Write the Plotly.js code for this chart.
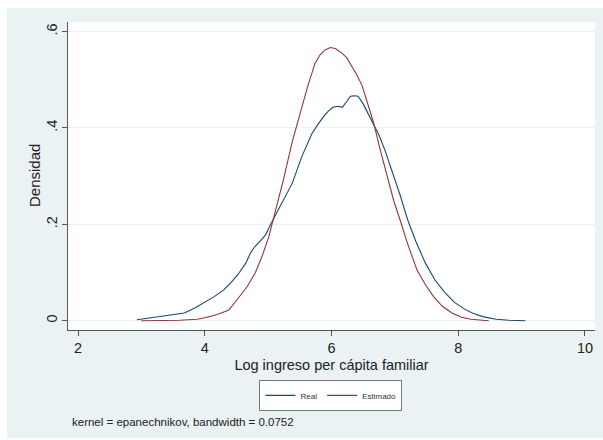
<!DOCTYPE html>
<html>
<head>
<meta charset="utf-8">
<script src="https://cdn.plot.ly/plotly-3.0.1.min.js"></script>
<style>
  html, body { margin: 0; padding: 0; background: #ffffff; }
  #chart { position: absolute; left: 7px; top: 8px; width: 596px; height: 430px; }
</style>
</head>
<body>
<div id="chart"></div>
<script>
// Kernel density: Real
const realX = [2.93, 3.2, 3.45, 3.68, 3.85, 4.0, 4.15, 4.3, 4.42, 4.53, 4.65, 4.72, 4.78, 4.86, 4.96, 5.04, 5.2, 5.38, 5.53, 5.69, 5.8, 5.87, 5.95, 6.02, 6.1, 6.17, 6.24, 6.3, 6.36, 6.42, 6.5, 6.58, 6.66, 6.75, 6.84, 6.96, 7.08, 7.2, 7.33, 7.48, 7.63, 7.78, 7.94, 8.1, 8.24, 8.4, 8.6, 8.8, 9.06];
const realY = [0.002, 0.007, 0.011, 0.016, 0.027, 0.038, 0.05, 0.064, 0.08, 0.097, 0.12, 0.14, 0.152, 0.163, 0.178, 0.2, 0.24, 0.285, 0.34, 0.388, 0.41, 0.423, 0.435, 0.443, 0.445, 0.443, 0.455, 0.466, 0.467, 0.466, 0.45, 0.43, 0.41, 0.385, 0.355, 0.31, 0.262, 0.21, 0.165, 0.12, 0.085, 0.06, 0.038, 0.024, 0.015, 0.008, 0.003, 0.001, 0.0];

// Kernel density: Estimado
const estX = [3.0, 3.3, 3.6, 3.88, 4.0, 4.2, 4.38, 4.5, 4.67, 4.8, 4.9, 5.01, 5.14, 5.24, 5.38, 5.5, 5.63, 5.74, 5.82, 5.9, 5.98, 6.06, 6.16, 6.24, 6.32, 6.4, 6.48, 6.56, 6.66, 6.77, 6.88, 6.98, 7.08, 7.2, 7.35, 7.48, 7.61, 7.75, 7.9, 8.05, 8.2, 8.35, 8.48];
const estY = [0.0, 0.0, 0.001, 0.003, 0.006, 0.013, 0.022, 0.042, 0.071, 0.1, 0.132, 0.174, 0.238, 0.292, 0.371, 0.43, 0.489, 0.534, 0.552, 0.562, 0.567, 0.565, 0.556, 0.546, 0.529, 0.51, 0.489, 0.455, 0.413, 0.354, 0.3, 0.25, 0.21, 0.16, 0.105, 0.075, 0.05, 0.03, 0.016, 0.007, 0.003, 0.001, 0.0];

const xTicks = [2, 4, 6, 8, 10];
const xTickText = ["2", "4", "6", "8", "10"];
const yTicks = [0, 0.2, 0.4, 0.6];
const yTickText = ["0", ".2", ".4", ".6"];

const seriesNames = ["Real", "Estimado"];
const xTitle = "Log ingreso per cápita familiar";
const yTitle = "Densidad";
const noteText = "kernel = epanechnikov, bandwidth = 0.0752";

const traces = [
  { x: realX, y: realY, type: "scatter", mode: "lines", name: seriesNames[0],
    line: { color: "#1a476f", width: 1.1 } },
  { x: estX, y: estY, type: "scatter", mode: "lines", name: seriesNames[1],
    line: { color: "#90353b", width: 1.1 } }
];

const font = "Liberation Sans, Arial, sans-serif";

const layout = {
  width: 596, height: 430,
  margin: { l: 61, r: 8, t: 14, b: 108 },
  paper_bgcolor: "#eaf2f3",
  plot_bgcolor: "#ffffff",
  font: { family: font, color: "#222222" },
  showlegend: true,
  xaxis: {
    range: [1.842, 10.158],
    tickvals: xTicks, ticktext: xTickText,
    ticks: "outside", ticklen: 5, tickcolor: "#555555", tickwidth: 1,
    showline: true, linecolor: "#555555", linewidth: 1,
    showgrid: false, zeroline: false,
    tickfont: { size: 14.5, color: "#222222" },
    title: { text: xTitle, font: { size: 14.5, color: "#222222" }, standoff: 4 },
    automargin: false
  },
  yaxis: {
    range: [-0.0193, 0.620],
    tickvals: yTicks, ticktext: yTickText,
    ticks: "outside", ticklen: 5, tickcolor: "#555555", tickwidth: 1,
    tickangle: -90,
    ticklabelstandoff: -1,
    showline: true, linecolor: "#555555", linewidth: 1,
    showgrid: true, gridcolor: "#eaf2f3", gridwidth: 1,
    zeroline: false,
    tickfont: { size: 14.5, color: "#222222" },
    automargin: false
  },
  legend: {
    orientation: "h",
    x: 0.499, xanchor: "center",
    y: -0.162, yanchor: "top",
    bgcolor: "#ffffff", bordercolor: "#777777", borderwidth: 1,
    font: { size: 8, color: "#333333" }
  },
  annotations: [
    { text: yTitle, xref: "paper", yref: "paper", x: -0.0645, y: 0.5,
      xanchor: "center", yanchor: "middle", textangle: -90, showarrow: false,
      font: { size: 15, color: "#222222" } },
    { text: noteText, xref: "paper", yref: "paper", x: 0.004, y: -0.299,
      xanchor: "left", yanchor: "middle", showarrow: false,
      font: { size: 11.5, color: "#222222" } }
  ]
};

Plotly.newPlot("chart", traces, layout, { displayModeBar: false, staticPlot: true });
</script>
</body>
</html>
